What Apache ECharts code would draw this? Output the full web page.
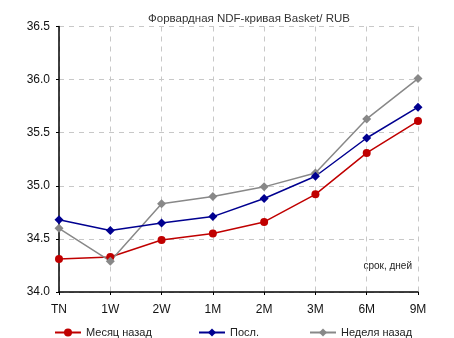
<!DOCTYPE html>
<html>
<head>
<meta charset="utf-8">
<script src="https://cdn.jsdelivr.net/npm/echarts@6/dist/echarts.min.js"></script>
<style>
html,body{margin:0;padding:0;background:#fff;}
#chart{width:454px;height:338px;}
</style>
</head>
<body>
<div id="chart"></div>
<script>
// Tenors along the curve
const tenors = ['TN', '1W', '2W', '1M', '2M', '3M', '6M', '9M'];
// Forward NDF rates, Basket/RUB
const monthAgo = [34.31, 34.33, 34.49, 34.55, 34.66, 34.92, 35.31, 35.61];
const latest = [34.68, 34.58, 34.65, 34.71, 34.88, 35.09, 35.45, 35.74];
const weekAgo = [34.60, 34.29, 34.83, 34.90, 34.99, 35.12, 35.63, 36.01];
const seriesNames = ['Месяц назад', 'Посл.', 'Неделя назад'];

const font = '"Liberation Sans", Arial, sans-serif';
const chart = echarts.init(document.getElementById('chart'));

function legendFor(name, left) {
  return {
    data: [name], left: left, top: 327, padding: 0, itemWidth: 26, itemHeight: 10,
    textStyle: { fontFamily: font, fontSize: 11, color: '#222' }
  };
}

const gridLine = { show: true, lineStyle: { color: '#c8c8c8', type: [5, 5] } };

chart.setOption({
  animation: false,
  title: {
    text: 'Форвардная NDF-кривая Basket/ RUB', left: 244, textAlign: 'center', top: 8,
    textStyle: { fontFamily: font, fontSize: 11.5, fontWeight: 'normal', color: '#333' }
  },
  legend: [legendFor(seriesNames[0], 54), legendFor(seriesNames[1], 198), legendFor(seriesNames[2], 309)],
  grid: { left: 59, right: 36, top: 26.5, bottom: 46 },
  graphic: [{
    type: 'text', right: 42, top: 261,
    style: { text: 'срок, дней', fontFamily: font, fontSize: 10, fill: '#222' }
  }],
  xAxis: {
    type: 'category', data: tenors, boundaryGap: false,
    axisLine: { lineStyle: { color: '#000', width: 1.5 } },
    axisTick: { show: true, length: 3, lineStyle: { color: '#000' } },
    axisLabel: { fontFamily: font, fontSize: 12, color: '#111', margin: 12 },
    splitLine: gridLine
  },
  yAxis: {
    type: 'value', min: 34, max: 36.5, interval: 0.5,
    axisLine: { show: true, lineStyle: { color: '#000', width: 1.5 } },
    axisTick: { show: true, length: 3, lineStyle: { color: '#000' } },
    axisLabel: { fontFamily: font, fontSize: 12, color: '#111', margin: 9, formatter: v => v.toFixed(1) },
    splitLine: gridLine
  },
  series: [
    { name: seriesNames[0], type: 'line', data: monthAgo, symbol: 'circle', symbolSize: 8,
      itemStyle: { color: '#C00000' }, lineStyle: { width: 1.5, color: '#C00000' } },
    { name: seriesNames[2], type: 'line', data: weekAgo, symbol: 'diamond', symbolSize: 9,
      itemStyle: { color: '#888888' }, lineStyle: { width: 1.5, color: '#888888' } },
    { name: seriesNames[1], type: 'line', data: latest, symbol: 'diamond', symbolSize: 9,
      itemStyle: { color: '#000090' }, lineStyle: { width: 1.5, color: '#000090' } }
  ]
});
</script>
</body>
</html>
